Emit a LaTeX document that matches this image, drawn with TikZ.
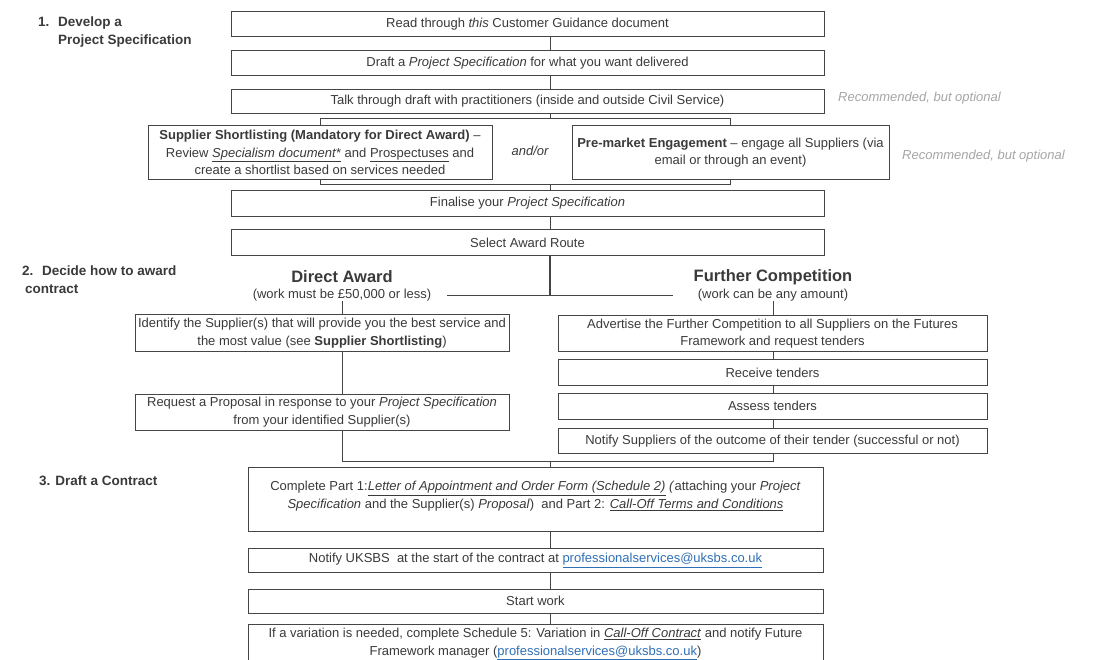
\documentclass[tikz,border=0pt]{standalone}
\usepackage{fontspec}
\setmainfont{Liberation Sans}
\usepackage{xcolor}
\usetikzlibrary{positioning}
\definecolor{gdink}{HTML}{3A3A3A}
\definecolor{gdrule}{HTML}{454545}
\definecolor{gdnote}{HTML}{A5A5A5}
\definecolor{gdblue}{HTML}{2F6FB6}
\newcommand{\gdlink}[1]{\textcolor{gdblue}{\underline{#1}}}
\newcommand{\gdul}[1]{\underline{\textit{#1}}}

\begin{document}
\begin{tikzpicture}[
  x=1pt, y=-1pt,
  node distance=13pt,
  box/.style={draw=gdrule, line width=0.9pt, fill=white, align=center, text=gdink,
              font=\fontsize{13}{17.5}\selectfont, inner sep=2pt},
  mainbox/.style={box, minimum width=593, minimum height=25},
  lowbox/.style={box, minimum width=575, minimum height=24},
  dabox/.style={box, minimum width=374, minimum height=36},
  fcbox/.style={box, minimum width=429, minimum height=26},
  stage/.style={align=left, inner sep=0pt, anchor=north west, text=gdink,
                font=\fontsize{13.5}{18}\selectfont\bfseries},
  route/.style={inner sep=0pt, text=gdink, font=\fontsize{16.5}{20}\selectfont\bfseries},
  routesub/.style={inner sep=0pt, text=gdink, font=\fontsize{13}{17.5}\selectfont},
  optnote/.style={inner sep=0pt, anchor=west, text=gdnote, font=\fontsize{13}{17.5}\selectfont\itshape},
  con/.style={draw=gdrule, line width=0.9pt},
]
\useasboundingbox (0,0) rectangle (1114,659);

% stage headings
\node[stage] (st1) at (38,17) {\makebox[20pt][l]{1.}Develop a\\\makebox[20pt][l]{}Project Specification};
\node[stage] (st2) at (22,266) {\makebox[20pt][l]{2.}Decide how to award\\\makebox[3pt][l]{}contract};
\node[stage] (st3) at (39,476) {3. Draft a Contract};

% 1. develop a project specification
\node[mainbox, anchor=north] (read) at (527.5,11) {Read through \textit{this} Customer Guidance document};
\node[mainbox, below=of read] (draft) {Draft a \textit{Project Specification} for what you want delivered};
\node[mainbox, below=of draft, minimum height=24] (talk) {Talk through draft with practitioners (inside and outside Civil Service)};
\node[optnote] (opt1) at (838,98) {Recommended, but optional};

\node[box, anchor=north, minimum width=344, minimum height=54] (short) at (320,125)
  {\textbf{Supplier Shortlisting (Mandatory for Direct Award)} --\\
   Review \gdul{Specialism document*} and \underline{Prospectuses} and\\
   create a shortlist based on services needed};
\node[box, anchor=north, minimum width=317, minimum height=54] (premkt) at (730.5,125)
  {\textbf{Pre-market Engagement} -- engage all Suppliers (via\\email or through an event)};
\node[routesub, font=\fontsize{13}{17.5}\selectfont\itshape] (andor) at (530,151) {and/or};
\node[optnote] (opt2) at (902,156) {Recommended, but optional};

\node[mainbox, anchor=north, minimum height=26] (final) at (527.5,190) {Finalise your \textit{Project Specification}};
\node[mainbox, below=12pt of final, minimum height=26] (select) {Select Award Route};

% 2. award routes
\node[route] (da) at (342,277) {Direct Award};
\node[routesub] (dasub) at (342,295) {(work must be \pounds50,000 or less)};
\node[route] (fc) at (773,277) {Further Competition};
\node[routesub] (fcsub) at (773,295) {(work can be any amount)};

\node[dabox, anchor=north, minimum height=37] (ident) at (322,314)
  {Identify the Supplier(s) that will provide you the best service and\\
   the most value (see \textbf{Supplier Shortlisting})};
\node[dabox, below=42pt of ident] (request)
  {Request a Proposal in response to your \textit{Project Specification}\\from your identified Supplier(s)};

\node[fcbox, anchor=north, minimum height=36] (advert) at (772.5,315)
  {Advertise the Further Competition to all Suppliers on the Futures\\Framework and request tenders};
\node[fcbox, below=7pt of advert] (receive) {Receive tenders};
\node[fcbox, below=7pt of receive] (assess) {Assess tenders};
\node[fcbox, below=8pt of assess, minimum height=25] (notify) {Notify Suppliers of the outcome of their tender (successful or not)};

% 3. draft a contract
\node[lowbox, anchor=north, minimum height=64] (complete) at (535.5,467)
  {Complete Part 1:\gdul{Letter of Appointment and Order Form (Schedule 2)} \textit{(}attaching your \textit{Project}\\
   \textit{Specification} and the Supplier(s) \textit{Proposal})\ \ and Part 2: \gdul{Call-Off Terms and Conditions}\\[-8pt]};
\node[lowbox, below=16pt of complete] (uksbs) {Notify UKSBS\ \ at the start of the contract at \gdlink{professionalservices@uksbs.co.uk}};
\node[lowbox, below=16pt of uksbs] (start) {Start work};
\node[lowbox, below=10pt of start, minimum height=40] (vary)
  {If a variation is needed, complete Schedule 5: Variation in \gdul{Call-Off Contract} and notify Future\\
   Framework manager (\gdlink{professionalservices@uksbs.co.uk})};

% connector lines
\coordinate (spine) at (550,0);
\coordinate (fork) at (0,118);
\coordinate (merge) at (0,184);
\coordinate (split) at (0,295);
\coordinate (splitl) at (447,295);
\coordinate (splitr) at (673,295);
\coordinate (join) at (0,461);

\draw[con] (read.south -| spine) -- (draft.north -| spine);
\draw[con] (draft.south -| spine) -- (talk.north -| spine);
\draw[con] (talk.south -| spine) -- (fork -| spine);
\draw[con] (short.north) -- (short.north |- fork) -- (premkt.north |- fork) -- (premkt.north);
\draw[con] (short.south) -- (short.south |- merge) -- (premkt.south |- merge) -- (premkt.south);
\draw[con] (merge -| spine) -- (final.north -| spine);
\draw[con] (final.south -| spine) -- (select.north -| spine);
\draw[con, line width=1.2pt] (select.south -| spine) -- (split -| spine);
\draw[con] (splitl) -- (splitr);

\draw[con] (dasub.south) -- (ident.north -| dasub);
\draw[con] (ident.south -| dasub) -- (request.north -| dasub);
\draw[con] (request.south -| dasub) -- (join -| dasub) -- (join -| fcsub) -- (notify.south -| fcsub);
\draw[con] (fcsub.south) -- (advert.north -| fcsub);
\draw[con] (advert.south -| fcsub) -- (receive.north -| fcsub);
\draw[con] (receive.south -| fcsub) -- (assess.north -| fcsub);
\draw[con] (assess.south -| fcsub) -- (notify.north -| fcsub);

\draw[con] (join -| spine) -- (complete.north -| spine);
\draw[con] (complete.south -| spine) -- (uksbs.north -| spine);
\draw[con] (uksbs.south -| spine) -- (start.north -| spine);
\draw[con] (start.south -| spine) -- (vary.north -| spine);

\end{tikzpicture}
\end{document}
